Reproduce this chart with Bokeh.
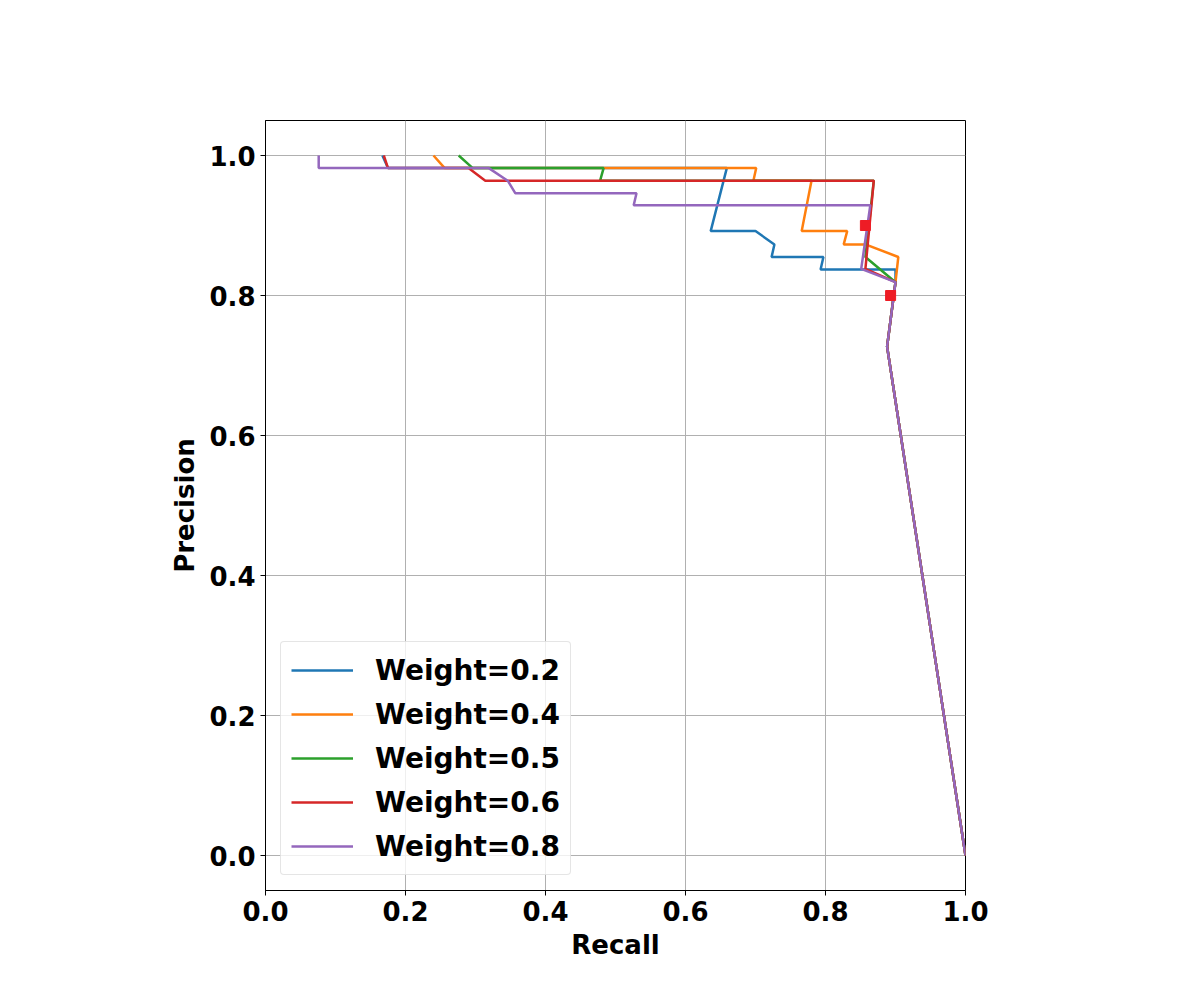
from bokeh.plotting import figure
from bokeh.models import Range1d, FixedTicker, Legend, LegendItem
from bokeh.embed import file_html
from bokeh.resources import INLINE

labels = ["Weight=0.2", "Weight=0.4", "Weight=0.5", "Weight=0.6", "Weight=0.8"]
colors = ["#1f77b4", "#ff7f0e", "#2ca02c", "#d62728", "#9467bd"]

tail_r = [0.9, 0.888, 1.0]
tail_p = [0.819, 0.727, 0.0]

r02 = [0.167, 0.175, 0.659, 0.636, 0.700, 0.727, 0.723, 0.797, 0.793, 0.900] + tail_r
p02 = [1.0, 0.982, 0.982, 0.892, 0.892, 0.873, 0.855, 0.855, 0.837, 0.837] + tail_p
r04 = [0.240, 0.256, 0.701, 0.697, 0.780, 0.766, 0.831, 0.826, 0.857, 0.904] + tail_r
p04 = [1.0, 0.982, 0.982, 0.964, 0.964, 0.892, 0.892, 0.873, 0.873, 0.855] + tail_p
r05 = [0.276, 0.296, 0.483, 0.478, 0.869, 0.857] + tail_r
p05 = [1.0, 0.982, 0.982, 0.964, 0.964, 0.855] + tail_p
r06 = [0.169, 0.175, 0.290, 0.314, 0.869, 0.857] + tail_r
p06 = [1.0, 0.982, 0.982, 0.964, 0.964, 0.838] + tail_p
r08 = [0.076, 0.076, 0.319, 0.346, 0.357, 0.530, 0.526, 0.864, 0.851] + tail_r
p08 = [1.0, 0.982, 0.982, 0.964, 0.946, 0.946, 0.929, 0.929, 0.838] + tail_p

series = [(r02, p02), (r04, p04), (r05, p05), (r06, p06), (r08, p08)]

p = figure(frame_width=700, frame_height=770, min_border_left=265, min_border_top=120,
           min_border_right=219, min_border_bottom=84,
           x_range=Range1d(0, 1), y_range=Range1d(-0.05, 1.05),
           output_backend="svg", toolbar_location=None)
p.outline_line_color = "black"
p.outline_line_width = 1

items = []
for (r, pr), c, lab in zip(series, colors, labels):
    gl = p.line(r, pr, line_color=c, line_width=2.5)
    items.append(LegendItem(label=lab, renderers=[gl]))

# hand-marked threshold points
p.scatter([0.857, 0.893], [0.9, 0.8], size=10, marker="square", color="#ee1c25")

ticks = [0.0, 0.2, 0.4, 0.6, 0.8, 1.0]
for ax in (p.xaxis[0], p.yaxis[0]):
    ax.ticker = FixedTicker(ticks=ticks)
    ax.major_label_text_font = "DejaVu Sans"
    ax.major_label_text_font_style = "bold"
    ax.major_label_text_font_size = "26px"
    ax.major_label_text_color = "black"
    ax.axis_label_text_font = "DejaVu Sans"
    ax.axis_label_text_font_style = "bold"
    ax.axis_label_text_font_size = "26px"
    ax.axis_label_text_color = "black"
    ax.axis_label_standoff = 6
    ax.minor_tick_line_color = None
    ax.major_tick_out = 5
    ax.major_tick_in = 0
    ax.axis_line_color = "black"
p.xaxis.axis_label = "Recall"
p.yaxis.axis_label = "Precision"
p.xaxis.major_label_overrides = {t: f"{t:.1f}" for t in ticks}
p.yaxis.major_label_overrides = {t: f"{t:.1f}" for t in ticks}
p.grid.grid_line_color = "#b0b0b0"
p.grid.grid_line_alpha = 1.0
p.grid.grid_line_width = 1

leg = Legend(items=items, location="bottom_left")
leg.label_text_font = "DejaVu Sans"
leg.label_text_font_style = "bold"
leg.label_text_font_size = "28px"
leg.label_text_color = "black"
leg.label_standoff = 22
leg.glyph_width = 62
leg.label_height = 36
leg.glyph_height = 36
leg.spacing = 8
leg.padding = 10
leg.margin = 15
leg.border_line_color = "#cccccc"
leg.border_radius = 4
leg.background_fill_alpha = 0.8
p.add_layout(leg)

open("out.html", "w").write(file_html(p, INLINE))
